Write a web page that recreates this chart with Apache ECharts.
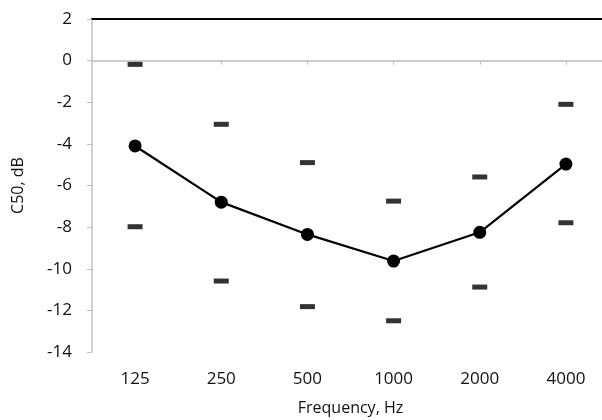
<!DOCTYPE html>
<html><head><meta charset="utf-8">
<script src="https://cdn.jsdelivr.net/npm/echarts@6/dist/echarts.min.js"></script>
<style>html,body{margin:0;padding:0;background:#fff}#c{width:602px;height:420px}</style>
</head><body><div id="c"></div>
<script>
var categories = ['125','250','500','1000','2000','4000'];
var meanValues = [-4.1, -6.8, -8.35, -9.63, -8.25, -4.97];
var upperValues = [-0.18, -3.06, -4.9, -6.75, -5.59, -2.1];
var lowerValues = [-7.98, -10.59, -11.82, -12.5, -10.88, -7.79];
var yTicks = [-14, 2, 2];

var FONT = '"Open Sans", sans-serif';
var chart = echarts.init(document.getElementById('c'));
chart.setOption({
  animation: false,
  backgroundColor: '#fff',
  grid: { left: 92, top: 19, width: 517, height: 333, outerBoundsMode: 'none', containLabel: false },
  xAxis: [{
    type: 'category', data: categories, position: 'bottom',
    axisLine: { lineStyle: { color: '#bfbfbf', width: 1.5 } },
    axisTick: { show: true, alignWithLabel: true, length: 4, lineStyle: { color: '#bfbfbf' } },
    axisLabel: { color: '#111', fontFamily: FONT, fontSize: 17, margin: 19 },
    name: 'Frequency, Hz', nameLocation: 'middle', nameGap: 48,
    nameTextStyle: { color: '#111', fontFamily: FONT, fontSize: 16 }
  }, {
    type: 'category', data: categories, position: 'top',
    axisLine: { lineStyle: { color: '#000', width: 2 } },
    axisTick: { show: false }, axisLabel: { show: false }
  }],
  yAxis: {
    type: 'value', min: yTicks[0], max: yTicks[1], interval: yTicks[2],
    axisLine: { show: true, lineStyle: { color: '#bfbfbf', width: 1.5 } },
    axisTick: { show: true, length: 5, lineStyle: { color: '#bfbfbf' } },
    splitLine: { show: false },
    axisLabel: { color: '#111', fontFamily: FONT, fontSize: 17, margin: 20 },
    name: 'C50, dB', nameLocation: 'middle', nameGap: 66, nameRotate: 90,
    nameTextStyle: { color: '#111', fontFamily: FONT, fontSize: 16 }
  },
  series: [{
    type: 'line', data: meanValues, symbol: 'circle', symbolSize: 13,
    lineStyle: { color: '#000', width: 2.2 }, itemStyle: { color: '#000' }
  }, {
    type: 'scatter', data: upperValues, symbol: 'rect', symbolSize: [15, 5],
    itemStyle: { color: '#000' }
  }, {
    type: 'scatter', data: lowerValues, symbol: 'rect', symbolSize: [15, 5],
    itemStyle: { color: '#000' }
  }]
});
</script></body></html>
